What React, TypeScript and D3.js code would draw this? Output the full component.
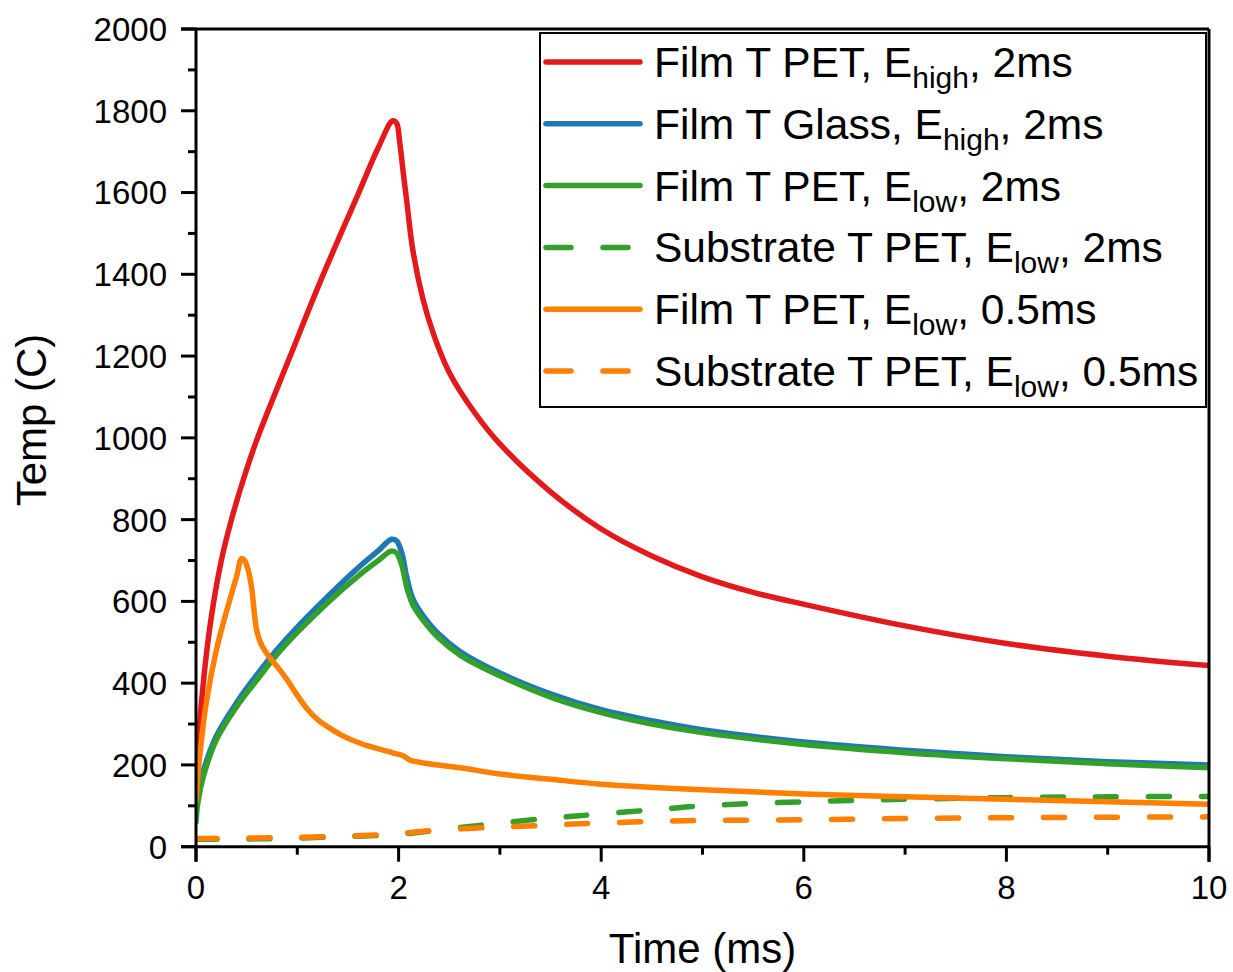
import React from "react";
import * as d3 from "d3";

const W = 1233;
const H = 972;

// Film T PET, E_high, 2ms
const redT = [0, 0.03, 0.08, 0.15, 0.25, 0.35, 0.47, 0.6, 0.93, 1.24, 1.59, 1.8, 1.94, 1.98, 2.01, 2.05, 2.08, 2.14, 2.24, 2.35, 2.5, 2.75, 3, 3.5, 4, 4.5, 5, 5.5, 6, 7, 8, 9, 10];
const redV = [130, 280, 420, 560, 700, 800, 900, 995, 1200, 1390, 1590, 1710, 1775, 1770, 1725, 1640, 1580, 1460, 1340, 1250, 1160, 1062, 985, 868, 777, 711, 660, 622, 593, 540, 497, 466, 443];

// Film T Glass, E_high, 2ms
const blueT = [0, 0.02, 0.072, 0.2, 0.4, 0.63, 0.8, 1.0, 1.3, 1.6, 1.8, 1.93, 1.98, 2.03, 2.08, 2.14, 2.25, 2.38, 2.61, 3, 3.5, 4, 4.5, 5, 6, 7, 8, 9, 10];
const blueV = [85, 130, 185, 270, 352, 430, 482, 537, 612, 682, 724, 752, 748, 720, 660, 607, 562, 524, 477, 425, 374, 335, 308, 286, 256, 236, 220, 208, 200];

// Film T PET, E_low, 2ms
const greenT = [0, 0.02, 0.072, 0.2, 0.4, 0.63, 0.8, 1.0, 1.3, 1.6, 1.8, 1.93, 1.98, 2.03, 2.08, 2.14, 2.25, 2.38, 2.61, 3, 3.5, 4, 4.5, 5, 6, 7, 8, 9, 10];
const greenV = [60, 110, 171, 261, 342, 417, 470, 524, 597, 662, 700, 723, 718, 690, 635, 592, 551, 514, 468, 418, 366, 328, 300, 279, 250, 230, 215, 203, 193];

// Substrate T PET, E_low, 2ms
const greenSubT = [0, 0.5, 1, 1.5, 2, 2.4, 2.9, 3.5, 4, 4.6, 5, 6, 7, 8, 9, 10];
const greenSubV = [18, 19, 21, 25, 30, 41, 55, 70, 80, 92, 100, 110, 116, 120, 122, 123];

// Film T PET, E_low, 0.5ms
const orangeT = [0, 0.04, 0.1, 0.2, 0.3, 0.4, 0.45, 0.48, 0.52, 0.55, 0.6, 0.65, 0.73, 0.82, 0.9, 1.0, 1.1, 1.2, 1.29, 1.45, 1.62, 1.95, 2.05, 2.11, 2.3, 2.61, 3, 3.5, 4, 5, 6, 7, 8, 9, 10];
const orangeV = [115, 229, 350, 480, 575, 660, 705, 700, 672, 632, 528, 492, 462, 435, 408, 370, 336, 311, 295, 271, 253, 229, 222, 212, 203, 193, 178, 165, 153, 139, 129, 122, 116, 110, 104];

// Substrate T PET, E_low, 0.5ms
const orangeSubT = [0, 0.5, 1, 1.5, 1.8, 2, 2.3, 2.9, 3.5, 4, 4.7, 5, 6, 7, 8, 9, 10];
const orangeSubV = [20, 21, 23, 26, 29, 32, 39, 47, 53, 58, 63, 64, 66, 69, 71, 72, 73];

const xMajor = [0, 2, 4, 6, 8, 10];
const xMinor = [1, 3, 5, 7, 9];
const yMajor = [0, 200, 400, 600, 800, 1000, 1200, 1400, 1600, 1800, 2000];
const yMinor = [100, 300, 500, 700, 900, 1100, 1300, 1500, 1700, 1900];

const legendMain = ["Film T PET, E", "Film T Glass, E", "Film T PET, E", "Substrate T PET, E", "Film T PET, E", "Substrate T PET, E"];
const legendSub = ["high", "high", "low", "low", "low", "low"];
const legendTail = [", 2ms", ", 2ms", ", 2ms", ", 2ms", ", 0.5ms", ", 0.5ms"];

const RED = "#e31a1c";
const BLUE = "#1f78b4";
const GREEN = "#33a02c";
const ORANGE = "#ff7f00";

const series = [
  { t: redT, v: redV, color: RED, dashed: false },
  { t: blueT, v: blueV, color: BLUE, dashed: false },
  { t: greenT, v: greenV, color: GREEN, dashed: false },
  { t: greenSubT, v: greenSubV, color: GREEN, dashed: true },
  { t: orangeT, v: orangeV, color: ORANGE, dashed: false },
  { t: orangeSubT, v: orangeSubV, color: ORANGE, dashed: true },
];

const FONT = "'Liberation Sans', Arial, Helvetica, sans-serif";

export default function App() {
  const x0 = 196, x1 = 1209, yTop = 29, yBot = 846.7;
  const x = d3.scaleLinear().domain([0, 10]).range([x0, x1]);
  const y = d3.scaleLinear().domain([0, 2000]).range([yBot, yTop]);
  const line = d3
    .line<[number, number]>()
    .x((d) => x(d[0]))
    .y((d) => y(d[1]))
    .curve(d3.curveCatmullRom.alpha(0.5));

  const lw = 5.5;
  const dash = "21,32";
  const legX0 = 540, legY0 = 33, legW = 666, legH = 374;
  const rowY0 = 62, rowStep = 61.8;

  return (
    <svg width={W} height={H} style={{ position: "absolute", left: 0, top: 0, background: "#fff" }} fontFamily={FONT}>
      <rect x={0} y={0} width={W} height={H} fill="#fff" />
      <defs>
        <clipPath id="plotclip">
          <rect x={x0} y={yTop - 5} width={x1 - x0} height={yBot - yTop + 5} />
        </clipPath>
      </defs>

      {/* data */}
      <g clipPath="url(#plotclip)">
        {series.map((s, i) => (
          <path
            key={i}
            d={line(s.t.map((t, j) => [t, s.v[j]] as [number, number])) || ""}
            fill="none"
            stroke={s.color}
            strokeWidth={lw}
            strokeLinecap="round"
            strokeLinejoin="round"
            strokeDasharray={s.dashed ? dash : undefined}
          />
        ))}
      </g>

      {/* frame */}
      <g stroke="#000" strokeWidth={3} fill="none">
        <line x1={x0 - 15} y1={yTop} x2={x1} y2={yTop} />
        <line x1={x1} y1={yTop} x2={x1} y2={yBot + 15} />
        <line x1={x0} y1={yTop} x2={x0} y2={yBot + 15} />
        <line x1={x0 - 15} y1={yBot} x2={x1} y2={yBot} />
        {xMajor.map((v) => (
          <line key={"xm" + v} x1={x(v)} y1={yBot} x2={x(v)} y2={yBot + 15} />
        ))}
        {xMinor.map((v) => (
          <line key={"xn" + v} x1={x(v)} y1={yBot} x2={x(v)} y2={yBot + 8} />
        ))}
        {yMajor.map((v) => (
          <line key={"ym" + v} x1={x0 - 15} y1={y(v)} x2={x0} y2={y(v)} />
        ))}
        {yMinor.map((v) => (
          <line key={"yn" + v} x1={x0 - 8} y1={y(v)} x2={x0} y2={y(v)} />
        ))}
      </g>

      {/* tick labels */}
      <g fontSize={33} fill="#000">
        {xMajor.map((v) => (
          <text key={"xl" + v} x={x(v)} y={899} textAnchor="middle">
            {v}
          </text>
        ))}
        {yMajor.map((v) => (
          <text key={"yl" + v} x={167} y={y(v)} dy="0.36em" textAnchor="end">
            {v}
          </text>
        ))}
      </g>

      {/* axis titles */}
      <text x={(x0 + x1) / 2} y={963} fontSize={42} textAnchor="middle" fill="#000">
        Time (ms)
      </text>
      <text transform={`translate(46,420) rotate(-90)`} fontSize={42} textAnchor="middle" fill="#000">
        Temp (C)
      </text>

      {/* legend */}
      <rect x={legX0} y={legY0} width={legW} height={legH} fill="#fff" stroke="#000" strokeWidth={2} />
      {series.map((s, i) => {
        const ry = rowY0 + i * rowStep;
        return (
          <g key={"lg" + i}>
            <line
              x1={546}
              x2={640}
              y1={ry}
              y2={ry}
              stroke={s.color}
              strokeWidth={lw}
              strokeLinecap="round"
              strokeDasharray={s.dashed ? "25,32" : undefined}
            />
            <text x={654} y={ry + 15} fontSize={42.5} fill="#000">
              <tspan>{legendMain[i]}</tspan>
              <tspan fontSize={30} dy={11}>{legendSub[i]}</tspan>
              <tspan dy={-11}>{legendTail[i]}</tspan>
            </text>
          </g>
        );
      })}
    </svg>
  );
}
